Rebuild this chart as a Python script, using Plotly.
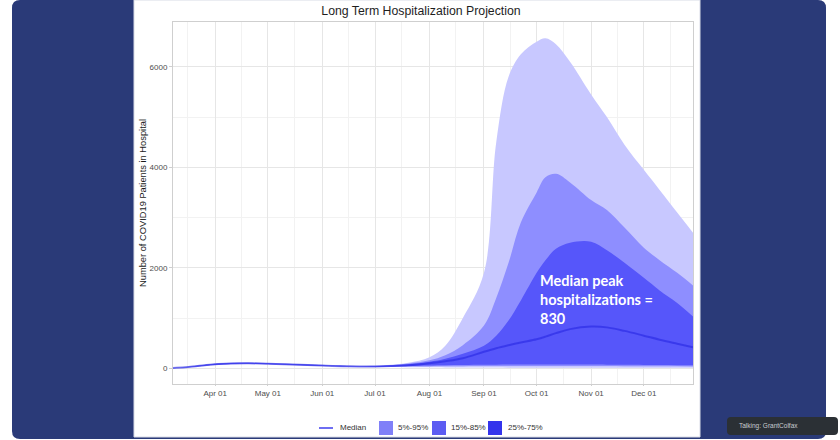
import plotly.graph_objects as go

# ---------------- data ----------------
dates = ["2020-03-08", "2020-03-15", "2020-03-22", "2020-04-01", "2020-04-10", "2020-04-20",
         "2020-05-01", "2020-05-15", "2020-06-01", "2020-06-15", "2020-07-01", "2020-07-10",
         "2020-07-20", "2020-08-01", "2020-08-10", "2020-08-20", "2020-09-01", "2020-09-08",
         "2020-09-15", "2020-09-22", "2020-10-01", "2020-10-06", "2020-10-12", "2020-10-20",
         "2020-11-01", "2020-11-10", "2020-11-20", "2020-12-01", "2020-12-10", "2020-12-20",
         "2020-12-29"]

median = [5, 20, 45, 80, 95, 100, 92, 75, 55, 42, 38, 45, 60, 100, 140, 200, 330, 400, 460, 515,
          580, 630, 700, 780, 830, 815, 745, 650, 570, 490, 420]
q95 = [8, 25, 55, 95, 110, 115, 105, 88, 66, 52, 50, 70, 110, 220, 450, 1000, 1900, 4500, 5800,
       6250, 6500, 6570, 6450, 6100, 5450, 5000, 4450, 3950, 3550, 3100, 2700]
q85 = [7, 23, 52, 90, 105, 110, 100, 84, 62, 48, 46, 62, 95, 160, 260, 460, 850, 1400, 2100, 2900,
       3500, 3800, 3870, 3700, 3350, 3150, 2800, 2400, 2150, 1900, 1650]
q75 = [6, 22, 50, 87, 102, 106, 97, 80, 59, 45, 43, 55, 80, 130, 190, 290, 450, 650, 950, 1350,
       1900, 2150, 2380, 2500, 2520, 2350, 2100, 1800, 1550, 1300, 1030]
q25 = [4, 18, 40, 73, 88, 94, 87, 70, 51, 39, 33, 38, 45, 55, 60, 65, 70, 72, 74, 75, 76, 76, 76,
       75, 74, 72, 70, 68, 66, 63, 60]
q15 = [3, 17, 38, 70, 85, 90, 84, 67, 48, 36, 30, 32, 35, 38, 40, 42, 44, 45, 46, 46, 46, 46, 46,
       45, 45, 44, 43, 42, 41, 40, 38]
q05 = [2, 15, 35, 66, 80, 86, 80, 63, 45, 33, 26, 24, 22, 20, 18, 16, 15, 14, 13, 13, 13, 12, 12,
       12, 12, 11, 11, 11, 10, 10, 10]

month_ticks = ["2020-04-01", "2020-05-01", "2020-06-01", "2020-07-01", "2020-08-01",
               "2020-09-01", "2020-10-01", "2020-11-01", "2020-12-01"]
minor_ticks = ["2020-03-16", "2020-04-16", "2020-05-16", "2020-06-16", "2020-07-16",
               "2020-08-16", "2020-09-16", "2020-10-16", "2020-11-16", "2020-12-16"]
y_ticks = [0, 2000, 4000, 6000]
legend_labels = ["Median", "5%-95%", "15%-85%", "25%-75%"]

# ---------------- styling ----------------
W, H = 840, 440
L, R, T, B = 173, 693, 22, 384
PW, PH = R - L, B - T


def px(x):
    return (x - L) / PW


def py(y):
    return (B - y) / PH


def rounded_path(x0, y0, x1, y1, r):
    a, b, c, d = px(x0), px(x1), py(y0), py(y1)
    rx, ry = r / PW, r / PH
    return (f"M {a+rx},{c} L {b-rx},{c} Q {b},{c} {b},{c-ry} L {b},{d+ry} Q {b},{d} {b-rx},{d} "
            f"L {a+rx},{d} Q {a},{d} {a},{d+ry} L {a},{c-ry} Q {a},{c} {a+rx},{c} Z")


fill_light = "rgb(200,200,255)"
fill_mid = "rgb(142,142,255)"
fill_dark = "rgb(86,86,250)"
leg_cols = ["rgb(128,128,248)", "rgb(92,92,242)", "rgb(52,52,236)"]
median_col = "rgba(40,40,228,0.62)"

fig = go.Figure()


def band(lo, hi, color, name):
    fig.add_trace(go.Scatter(x=dates, y=lo, mode="lines", line=dict(width=0, shape="spline"),
                             showlegend=False, hoverinfo="skip"))
    fig.add_trace(go.Scatter(x=dates, y=hi, mode="lines", line=dict(width=0, shape="spline"),
                             fill="tonexty", fillcolor=color, name=name, showlegend=False,
                             hoverinfo="skip"))


band(q05, q95, fill_light, legend_labels[1])
band(q15, q85, fill_mid, legend_labels[2])
band(q25, q75, fill_dark, legend_labels[3])

fig.add_trace(go.Scatter(x=dates, y=median, mode="lines", name=legend_labels[0], showlegend=False,
                         line=dict(color=median_col, width=2, shape="spline")))

shapes = [
    dict(type="path", xref="paper", yref="paper", path=rounded_path(12, 0, 826, 439, 8),
         fillcolor="#2a3a78", line=dict(width=0), layer="below"),
    dict(type="rect", xref="paper", yref="paper", x0=px(134), x1=px(700), y0=py(0), y1=py(437),
         fillcolor="white", line=dict(color="#d8dbe6", width=1), layer="below"),
    dict(type="path", xref="paper", yref="paper", path=rounded_path(727, 417, 838, 435, 4),
         fillcolor="#2b3035", line=dict(width=0), layer="above"),
]

# legend (drawn by hand to match the compact ggplot legend)
LEG_Y = 428
shapes.append(dict(type="line", xref="paper", yref="paper", x0=px(319), x1=px(333),
                   y0=py(LEG_Y), y1=py(LEG_Y), line=dict(color="rgb(110,110,242)", width=2)))
sw_x = [379, 432, 488]
for sx, col in zip(sw_x, leg_cols):
    shapes.append(dict(type="rect", xref="paper", yref="paper", x0=px(sx), x1=px(sx + 14),
                       y0=py(LEG_Y - 7), y1=py(LEG_Y + 7), fillcolor=col, line=dict(width=0)))
label_x = [338, 396, 449, 506]

annotations = [
    dict(xref="paper", yref="paper", x=px(538), y=py(299.5), xanchor="left", yanchor="middle",
         align="left", showarrow=False,
         text="Median peak<br>hospitalizations =<br>830",
         font=dict(family="Lato", size=14.5, color="white", weight="bold")),
    dict(xref="paper", yref="paper", x=px(737), y=py(426), xanchor="left", yanchor="middle",
         showarrow=False, text="Talking: GrantColfax",
         font=dict(family="Liberation Sans, Arial", size=6.5, color="#c8ccd0")),
]
for lx, lab in zip(label_x, legend_labels):
    annotations.append(dict(xref="paper", yref="paper", x=px(lx), y=py(LEG_Y), xanchor="left",
                            yanchor="middle", showarrow=False, text=lab,
                            font=dict(family="Liberation Sans, Arial", size=8, color="#333333")))

fig.update_layout(
    width=W, height=H, autosize=False,
    margin=dict(l=L, r=W - R, t=T, b=H - B, pad=0),
    paper_bgcolor="white", plot_bgcolor="white",
    font=dict(family="Liberation Sans, Arial", color="#4d4d4d"),
    title=dict(text="Long Term Hospitalization Projection", x=421 / W, xref="container",
               y=1 - 11 / H, yref="container", xanchor="center", yanchor="middle",
               font=dict(size=12.3, color="#1e1e1e")),
    showlegend=False,
    shapes=shapes,
    annotations=annotations,
)

fig.update_xaxes(
    type="date", range=["2020-03-08", "2020-12-29"],
    tickmode="array", tickvals=month_ticks, tickformat="%b %d",
    tickfont=dict(size=8, color="#4d4d4d"),
    showgrid=True, gridcolor="#e6e6e6", gridwidth=1,
    minor=dict(tickmode="array", tickvals=minor_ticks, showgrid=True, gridcolor="#f2f2f2",
               gridwidth=1),
    showline=True, linecolor="#cfcfcf", linewidth=1, mirror=True,
    ticks="outside", ticklen=1, tickcolor="#cfcfcf",
    zeroline=False,
)
fig.update_yaxes(
    range=[-312, 6892],
    tickmode="array", tickvals=y_ticks,
    tickfont=dict(size=8, color="#4d4d4d"),
    showgrid=True, gridcolor="#e6e6e6", gridwidth=1,
    minor=dict(tickmode="array", tickvals=[1000, 3000, 5000], showgrid=True,
               gridcolor="#f2f2f2", gridwidth=1),
    showline=True, linecolor="#cfcfcf", linewidth=1, mirror=True,
    ticks="outside", ticklen=3, tickcolor="#cfcfcf",
    zeroline=False,
    title=dict(text="Number of COVID19 Patients in Hospital", standoff=1,
               font=dict(size=9.3, color="#1a1a1a")),
)

fig.write_html(
    "out.html",
    config={"displayModeBar": False, "responsive": False},
    post_script="document.documentElement.style.overflow='hidden';"
                "document.body.style.overflow='hidden';document.body.style.margin='0';",
)
